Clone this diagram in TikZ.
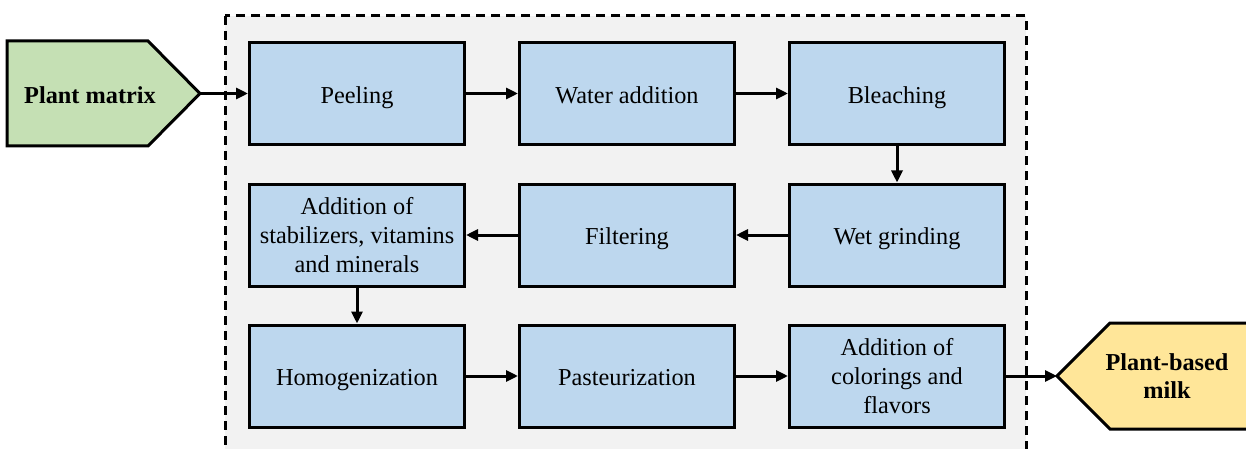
\documentclass[tikz,border=0pt]{standalone}
\usepackage{fontspec}
\setmainfont{Liberation Serif}
\usetikzlibrary{arrows.meta,positioning}
\definecolor{boxblue}{HTML}{BDD7EE}
\definecolor{panelgray}{HTML}{F2F2F2}
\definecolor{matrixgreen}{HTML}{C5E0B4}
\definecolor{milkyellow}{HTML}{FFE699}

\begin{document}
\begin{tikzpicture}[x=1pt,y=-1pt,
    stepbox/.style={draw,line width=3pt,fill=boxblue,minimum width=215pt,minimum height=102pt,align=center,font=\fontsize{24.3}{28.8}\selectfont},
    oneline/.style={text height=19.5pt,text depth=0pt},
    flow/.style={-{Triangle[length=12pt,width=11pt]},line width=3pt},
    tag/.style={align=center,font=\fontsize{24.3}{28.8}\selectfont\bfseries}]
	\useasboundingbox (0,0) rectangle (1246,449);
	\draw[line width=3pt,dash pattern=on 9pt off 6pt,fill=panelgray] (225,16) rectangle (1026,470); % process frame

	% input and output
	\draw[line width=3pt,fill=matrixgreen] (7,41) -- (148,41) -- (200,93.5) -- (148,146) -- (7,146) -- cycle;
	\node[tag,oneline] (matrix) at (90,93.5) {Plant matrix};
	\coordinate (matrixtip) at (200,93.5);
	\draw[line width=3pt,fill=milkyellow] (1250,323) -- (1110,323) -- (1057,376) -- (1110,429) -- (1250,429);
	\node[tag] (milk) at (1167,376) {Plant-based\\milk};
	\coordinate (milktip) at (1057,376);

	% steps
	\node[stepbox,oneline] (peel) at (357,93.5) {Peeling};
	\node[stepbox,oneline] (water) at (627,93.5) {Water addition};
	\node[stepbox,oneline] (bleach) at (897,93.5) {Bleaching};
	\node[stepbox,oneline] (grind) at (897,235) {Wet grinding};
	\node[stepbox,oneline] (filter) at (627,235) {Filtering};
	\node[stepbox] (stab) at (357,235) {Addition of\\stabilizers, vitamins\\and minerals};
	\node[stepbox,oneline] (homog) at (357,376) {Homogenization};
	\node[stepbox,oneline] (pasteur) at (627,376) {Pasteurization};
	\node[stepbox] (colour) at (897,376) {Addition of\\colorings and\\flavors};

	\draw[flow] (matrixtip) -- (peel);
	\draw[flow] (peel) -- (water);
	\draw[flow] (water) -- (bleach);
	\draw[flow] (bleach) -- (grind);
	\draw[flow] (grind) -- (filter);
	\draw[flow] (filter) -- (stab);
	\draw[flow] (stab) -- (homog);
	\draw[flow] (homog) -- (pasteur);
	\draw[flow] (pasteur) -- (colour);
	\draw[flow] (colour) -- (milktip);
\end{tikzpicture}
\end{document}
